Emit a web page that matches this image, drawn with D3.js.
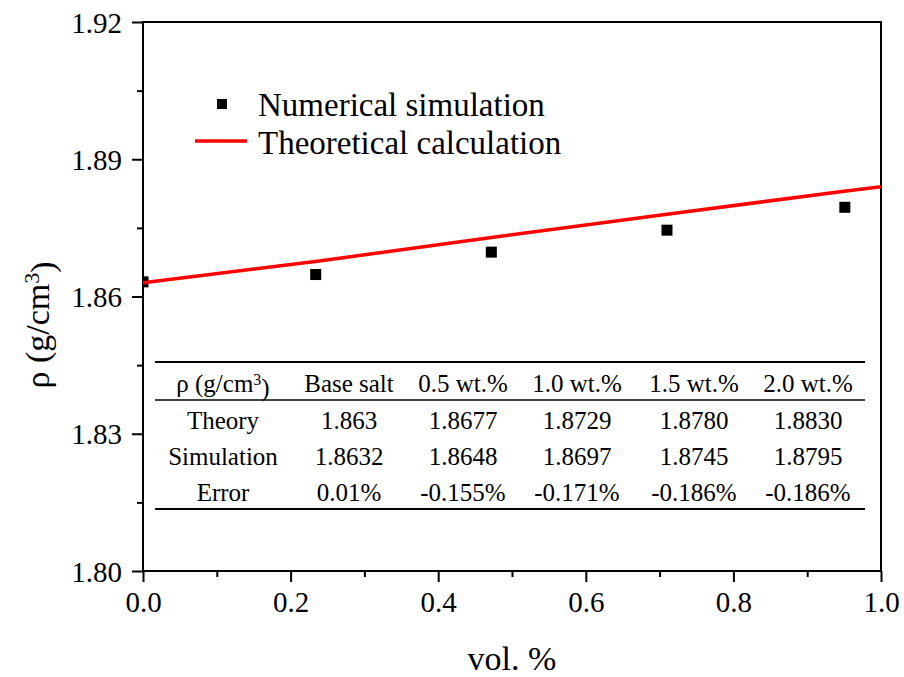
<!DOCTYPE html>
<html><head><meta charset="utf-8">
<script src="https://cdn.jsdelivr.net/npm/d3@7"></script>
<style>
body{margin:0;background:#fff}
svg{display:block}
text{font-family:"Liberation Serif","Times New Roman",serif;fill:#000}
</style>
</head><body>
<svg id="c" width="904" height="677"></svg>
<script>
// ---- data ----
const simX = [0, 0.234, 0.472, 0.71, 0.951];
const simY = [1.8632, 1.8648, 1.8697, 1.8745, 1.8795];
const theoX = [0, 0.236, 0.472, 0.71, 0.95, 1.0];
const theoY = [1.863, 1.8677, 1.8729, 1.8780, 1.8830, 1.8840];
const xTicks = [0, 0.2, 0.4, 0.6, 0.8, 1.0];
const xMinor = [0.1, 0.3, 0.5, 0.7, 0.9];
const yTicks = [1.80, 1.83, 1.86, 1.89, 1.92];
const yMinor = [1.815, 1.845, 1.875, 1.905];
const tableHeader = ["ρ (g/cm3)", "Base salt", "0.5 wt.%", "1.0 wt.%", "1.5 wt.%", "2.0 wt.%"];
const tableTheory = ["Theory", "1.863", "1.8677", "1.8729", "1.8780", "1.8830"];
const tableSim = ["Simulation", "1.8632", "1.8648", "1.8697", "1.8745", "1.8795"];
const tableErr = ["Error", "0.01%", "-0.155%", "-0.171%", "-0.186%", "-0.186%"];
const legendLabels = ["Numerical simulation", "Theoretical calculation"];

// ---- layout ----
const L = 143, R = 881, T = 22, B = 571;
const svg = d3.select("#c");
const x = d3.scaleLinear().domain([0, 1.0]).range([L, R]);
const y = d3.scaleLinear().domain([1.80, 1.92]).range([B, T]);

svg.append("defs").append("clipPath").attr("id", "clip")
  .append("rect").attr("x", L).attr("y", T).attr("width", R - L).attr("height", B - T);

// axes
const xAxis = svg.append("g").attr("transform", `translate(0,${B})`)
  .call(d3.axisBottom(x).tickValues(xTicks).tickFormat(d3.format(".1f")).tickSize(11).tickPadding(9));
const xAxisMinor = svg.append("g").attr("transform", `translate(0,${B})`)
  .call(d3.axisBottom(x).tickValues(xMinor).tickFormat("").tickSize(6));
const yAxis = svg.append("g").attr("transform", `translate(${L},0)`)
  .call(d3.axisLeft(y).tickValues(yTicks).tickFormat(d3.format(".2f")).tickSize(11).tickPadding(10));
const yAxisMinor = svg.append("g").attr("transform", `translate(${L},0)`)
  .call(d3.axisLeft(y).tickValues(yMinor).tickFormat("").tickSize(6));
[xAxis, xAxisMinor, yAxis, yAxisMinor].forEach(g => {
  g.select(".domain").remove();
  g.selectAll(".tick line").attr("stroke", "#000").attr("stroke-width", 2);
  g.selectAll(".tick text").style("font-size", "29px").attr("fill", "#000")
    .style("font-family", '"Liberation Serif","Times New Roman",serif');
});
xAxis.selectAll(".tick text").attr("dy", "0.71em");
yAxis.selectAll(".tick text").attr("dy", "0.35em");

// frame
svg.append("rect").attr("x", L).attr("y", T).attr("width", R - L).attr("height", B - T)
  .attr("fill", "none").attr("stroke", "#000").attr("stroke-width", 2);

// simulation markers
const ms = 11;
svg.append("g").attr("clip-path", "url(#clip)").selectAll("rect")
  .data(simX.map((v, i) => [v, simY[i]])).join("rect")
  .attr("x", d => x(d[0]) - ms / 2).attr("y", d => y(d[1]) - ms / 2)
  .attr("width", ms).attr("height", ms).attr("fill", "#000");

// theory line
svg.append("path").attr("clip-path", "url(#clip)")
  .datum(theoX.map((v, i) => [v, theoY[i]]))
  .attr("d", d3.line().x(d => x(d[0])).y(d => y(d[1])))
  .attr("fill", "none").attr("stroke", "#ff0000").attr("stroke-width", 3.5);

// legend
const lg = svg.append("g");
lg.append("rect").attr("x", 222 - 5).attr("y", 104 - 5).attr("width", 10).attr("height", 10).attr("fill", "#000");
lg.append("line").attr("x1", 195).attr("x2", 247).attr("y1", 141).attr("y2", 141)
  .attr("stroke", "#ff0000").attr("stroke-width", 3.5);
lg.selectAll("text").data(legendLabels).join("text")
  .attr("x", 258).attr("y", (d, i) => 104 + i * 38).attr("dy", "0.35em")
  .style("font-size", "33px").text(d => d);

// axis titles
svg.append("text").attr("x", 512).attr("y", 670).attr("text-anchor", "middle")
  .style("font-size", "34px").text("vol. %");
const yt = svg.append("text").attr("transform", "translate(37,325) rotate(-90)")
  .attr("text-anchor", "middle").attr("dy", "0.35em").style("font-size", "34px");
yt.append("tspan").text("ρ (g/cm");
yt.append("tspan").attr("dy", "-0.45em").style("font-size", "22px").text("3");
yt.append("tspan").attr("dy", "0.45em").text(")");

// table
const colX = [223, 349, 463, 577, 694, 808];
const tb = svg.append("g");
tb.append("line").attr("x1", 155).attr("x2", 865).attr("y1", 362).attr("y2", 362).attr("stroke", "#000").attr("stroke-width", 2);
tb.append("line").attr("x1", 155).attr("x2", 865).attr("y1", 400).attr("y2", 400).attr("stroke", "#000").attr("stroke-width", 1.3);
tb.append("line").attr("x1", 155).attr("x2", 865).attr("y1", 509).attr("y2", 509).attr("stroke", "#000").attr("stroke-width", 2);
const rowY = [383, 420, 456, 492];
tableHeader.forEach((h, j) => {
  const t = tb.append("text").attr("x", colX[j]).attr("y", rowY[0]).attr("dy", "0.35em")
    .attr("text-anchor", "middle").style("font-size", "25px");
  if (j === 0) {
    t.append("tspan").text("ρ (g/cm");
    t.append("tspan").attr("dy", "-0.45em").style("font-size", "16px").text("3");
    t.append("tspan").attr("dy", "0.45em").text(")");
  } else t.text(h);
});
[tableTheory, tableSim, tableErr].forEach((row, i) => {
  row.forEach((v, j) => {
    tb.append("text").attr("x", colX[j]).attr("y", rowY[i + 1]).attr("dy", "0.35em")
      .attr("text-anchor", "middle").style("font-size", "25px").text(v);
  });
});
</script>
</body></html>
